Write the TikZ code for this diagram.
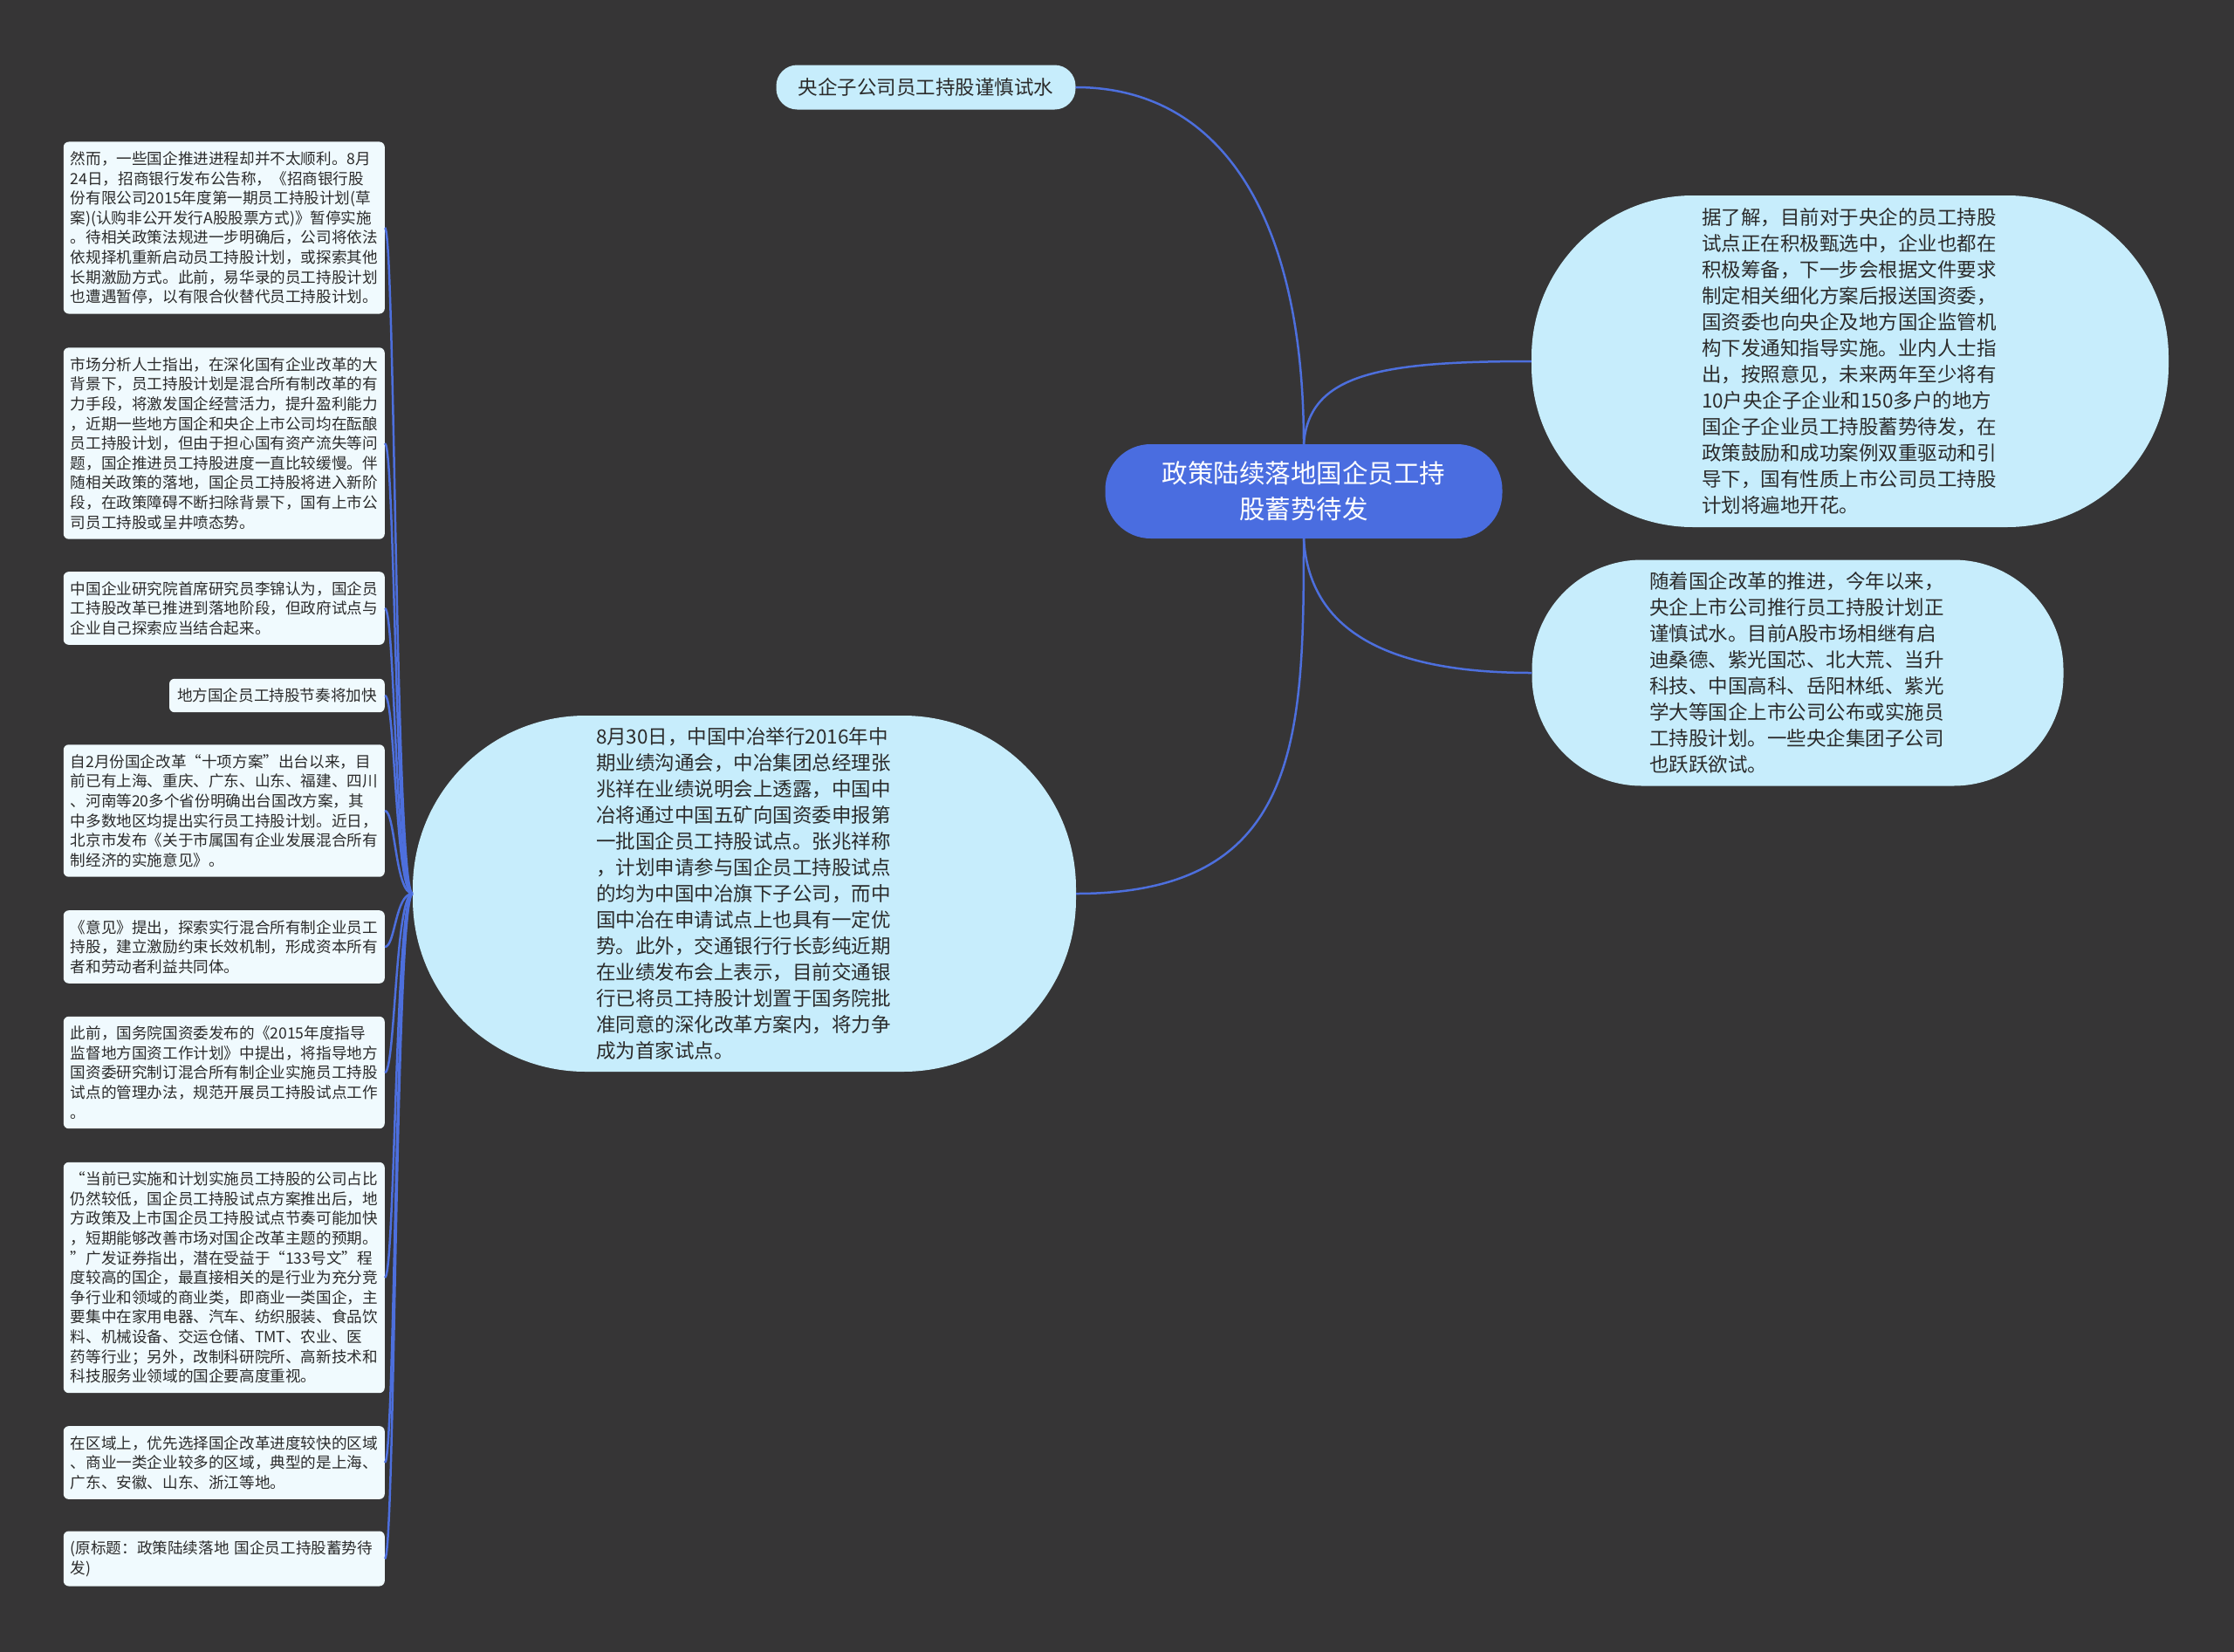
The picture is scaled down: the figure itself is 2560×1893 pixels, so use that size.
\documentclass[tikz,border=0pt]{standalone}
\usepackage{fontspec}
\setmainfont{Noto Sans CJK SC}
\definecolor{bgc}{HTML}{363536}
\definecolor{linec}{HTML}{4D6FDD}
\definecolor{rootc}{HTML}{4A6DE0}
\definecolor{bubc}{HTML}{C7EDFC}
\definecolor{notec}{HTML}{F0FAFE}
\definecolor{textc}{HTML}{2B2B2B}

\begin{document}
\begin{tikzpicture}
  [x=1pt,y=-1pt,
   edge/.style={draw=linec,line width=2.5pt},
   root/.style={fill=rootc,text=white,rounded corners=52pt,minimum width=455pt,minimum height=108pt,align=center,font=\fontsize{29.5}{41}\selectfont},
   bubble/.style={fill=bubc,text=textc,align=left,text width=340pt,font=\fontsize{22.5}{30}\selectfont},
   note/.style={fill=notec,text=textc,rounded corners=6pt,align=left,text width=352pt,inner xsep=8pt,inner ysep=11pt,anchor=east,font=\fontsize{17.6}{22.6}\selectfont},
   tag/.style={fill=notec,text=textc,rounded corners=6pt,inner xsep=9pt,inner ysep=11pt,anchor=east,font=\fontsize{17.6}{22.6}\selectfont}]
  \fill[bgc] (0,0) rectangle (2560,1893);

  \node[root] (c) at (1494,563) {政策陆续落地国企员工持\\股蓄势待发};
  \node[bubble,text width=300pt,align=center,rounded corners=24pt,minimum width=343pt,minimum height=51pt,inner sep=0pt] (t) at (1061,100) {央企子公司员工持股谨慎试水};
  \node[bubble,rounded corners=185pt,minimum width=730pt,minimum height=380pt] (r1) at (2120,414) {据了解，目前对于央企的员工持股\\
试点正在积极甄选中，企业也都在\\
积极筹备，下一步会根据文件要求\\
制定相关细化方案后报送国资委，\\
国资委也向央企及地方国企监管机\\
构下发通知指导实施。业内人士指\\
出，按照意见，未来两年至少将有\\
10户央企子企业和150多户的地方\\
国企子企业员工持股蓄势待发，在\\
政策鼓励和成功案例双重驱动和引\\
导下，国有性质上市公司员工持股\\
计划将遍地开花。};
  \node[bubble,rounded corners=126pt,minimum width=609pt,minimum height=259pt] (r2) at (2060,771) {随着国企改革的推进，今年以来，\\
央企上市公司推行员工持股计划正\\
谨慎试水。目前A股市场相继有启\\
迪桑德、紫光国芯、北大荒、当升\\
科技、中国高科、岳阳林纸、紫光\\
学大等国企上市公司公布或实施员\\
工持股计划。一些央企集团子公司\\
也跃跃欲试。};
  \node[bubble,rounded corners=198pt,minimum width=760pt,minimum height=408pt] (l) at (853,1024) {8月30日，中国中冶举行2016年中\\
期业绩沟通会，中冶集团总经理张\\
兆祥在业绩说明会上透露，中国中\\
冶将通过中国五矿向国资委申报第\\
一批国企员工持股试点。张兆祥称\\
，计划申请参与国企员工持股试点\\
的均为中国中冶旗下子公司，而中\\
国中冶在申请试点上也具有一定优\\
势。此外，交通银行行长彭纯近期\\
在业绩发布会上表示，目前交通银\\
行已将员工持股计划置于国务院批\\
准同意的深化改革方案内，将力争\\
成为首家试点。};

  \node[note] (b1) at (441,261) {然而，一些国企推进进程却并不太顺利。8月\\
24日，招商银行发布公告称，《招商银行股\\
份有限公司2015年度第一期员工持股计划(草\\
案)(认购非公开发行A股股票方式)》暂停实施\\
。待相关政策法规进一步明确后，公司将依法\\
依规择机重新启动员工持股计划，或探索其他\\
长期激励方式。此前，易华录的员工持股计划\\
也遭遇暂停，以有限合伙替代员工持股计划。};
  \node[note] (b2) at (441,508) {市场分析人士指出，在深化国有企业改革的大\\
背景下，员工持股计划是混合所有制改革的有\\
力手段，将激发国企经营活力，提升盈利能力\\
，近期一些地方国企和央企上市公司均在酝酿\\
员工持股计划，但由于担心国有资产流失等问\\
题，国企推进员工持股进度一直比较缓慢。伴\\
随相关政策的落地，国企员工持股将进入新阶\\
段，在政策障碍不断扫除背景下，国有上市公\\
司员工持股或呈井喷态势。};
  \node[note] (b3) at (441,697) {中国企业研究院首席研究员李锦认为，国企员\\
工持股改革已推进到落地阶段，但政府试点与\\
企业自己探索应当结合起来。};
  \node[tag] (b4) at (441,797) {地方国企员工持股节奏将加快};
  \node[note] (b5) at (441,929) {自2月份国企改革“十项方案”出台以来，目\\
前已有上海、重庆、广东、山东、福建、四川\\
、河南等20多个省份明确出台国改方案，其\\
中多数地区均提出实行员工持股计划。近日，\\
北京市发布《关于市属国有企业发展混合所有\\
制经济的实施意见》。};
  \node[note] (b6) at (441,1085) {《意见》提出，探索实行混合所有制企业员工\\
持股，建立激励约束长效机制，形成资本所有\\
者和劳动者利益共同体。};
  \node[note] (b7) at (441,1229) {此前，国务院国资委发布的《2015年度指导\\
监督地方国资工作计划》中提出，将指导地方\\
国资委研究制订混合所有制企业实施员工持股\\
试点的管理办法，规范开展员工持股试点工作\\
。};
  \node[note] (b8) at (441,1464) {“当前已实施和计划实施员工持股的公司占比\\
仍然较低，国企员工持股试点方案推出后，地\\
方政策及上市国企员工持股试点节奏可能加快\\
，短期能够改善市场对国企改革主题的预期。\\
”广发证券指出，潜在受益于“133号文”程\\
度较高的国企，最直接相关的是行业为充分竞\\
争行业和领域的商业类，即商业一类国企，主\\
要集中在家用电器、汽车、纺织服装、食品饮\\
料、机械设备、交运仓储、TMT、农业、医\\
药等行业；另外，改制科研院所、高新技术和\\
科技服务业领域的国企要高度重视。};
  \node[note] (b9) at (441,1676) {在区域上，优先选择国企改革进度较快的区域\\
、商业一类企业较多的区域，典型的是上海、\\
广东、安徽、山东、浙江等地。};
  \node[note] (b10) at (441,1786) {(原标题：政策陆续落地~国企员工持股蓄势待\\
发)};

  \draw[edge] (c.north) .. controls +(0,-260) and +(167,0) .. (t.east);
  \draw[edge] (c.north) .. controls +(6,-80) and +(-175,0) .. (r1.west);
  \draw[edge] (c.south) .. controls +(6,100) and +(-175,0) .. (r2.west);
  \draw[edge] (c.south) .. controls +(0,230) and +(257,0) .. (l.east);
  \foreach \i in {1,...,10}
    \draw[edge] (l.west) .. controls +(-20,0) and +(12,0) .. (b\i.east);
\end{tikzpicture}
\end{document}
